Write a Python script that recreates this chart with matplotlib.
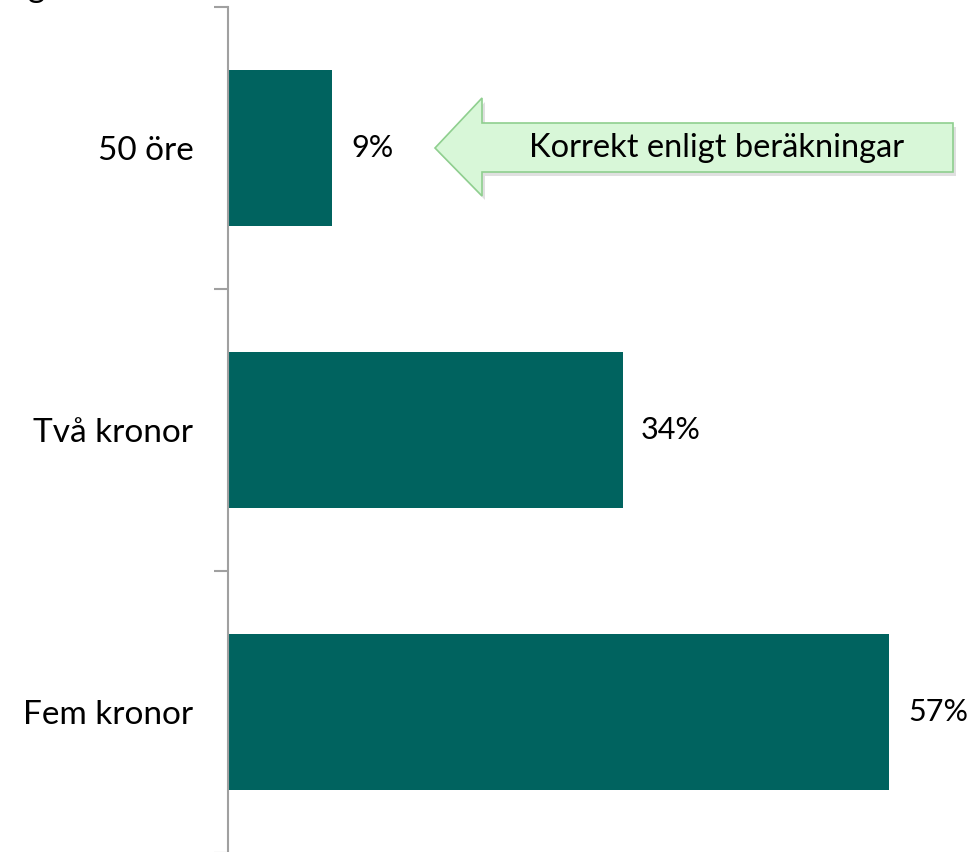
import matplotlib
matplotlib.use("Agg")
import matplotlib.pyplot as plt
from matplotlib.patches import Polygon

# data
categories = ["50 öre", "Två kronor", "Fem kronor"]
values = [9, 34, 57]
value_labels = ["9%", "34%", "57%"]
note = "Korrekt enligt beräkningar"

W, H = 973, 852
plt.rcParams['font.family'] = ['Lato', 'DejaVu Sans']
FS = 24

fig = plt.figure(figsize=(W / 100, H / 100), dpi=100)
# axes: left edge at x=228, top at y=7, bottom at ~853
ax = fig.add_axes([228 / W, -1 / H, 1 - 228 / W, (853 - 7) / H])

pos = [2, 1, 0]
ax.barh(pos, values, height=0.55, color="#00635f")
ax.set_ylim(-0.5, 2.5)
ax.set_xlim(0, 64.2)

for p, v, lab in zip(pos, values, value_labels):
    ax.text(v + 1.6, p, lab, va="center", ha="left", fontsize=22)

ax.set_yticks([-0.5, 0.5, 1.5, 2.5], minor=False)
ax.set_yticklabels([])
ax.set_yticks(pos, minor=True)
ax.set_yticklabels(categories, minor=True, fontsize=FS)
ax.tick_params(axis="y", which="minor", length=0, pad=25)
ax.tick_params(axis="y", which="major", length=10, width=1.5, color="#a0a0a0", direction="out")
ax.set_xticks([])
for s in ["top", "right", "bottom"]:
    ax.spines[s].set_visible(False)
ax.spines["left"].set_color("#a0a0a0")
ax.spines["left"].set_linewidth(1.5)

# arrow callout (pixel coords converted to figure fraction)
def f(pts):
    return [(x / W, 1 - y / H) for x, y in pts]

arrow = [(435, 148), (482, 98), (482, 123), (953, 123), (953, 172),
         (482, 172), (482, 196)]
shadow = [(x + 3, y + 4) for x, y in arrow]
fig.patches.append(Polygon(f(shadow), closed=True, transform=fig.transFigure,
                           facecolor="#000000", alpha=0.12, edgecolor="none"))
fig.patches.append(Polygon(f(arrow), closed=True, transform=fig.transFigure,
                           facecolor="#d8f7d8", edgecolor="#8fcf8f", linewidth=1.2))
fig.text(717 / W, 1 - 148 / H, note, ha="center", va="center", fontsize=23.5)

# cut-off title fragment at top edge
fig.text(28 / W, 1 + 3 / H, "g", ha="left", va="baseline", fontsize=FS)

fig.savefig("out.png", dpi=100)
